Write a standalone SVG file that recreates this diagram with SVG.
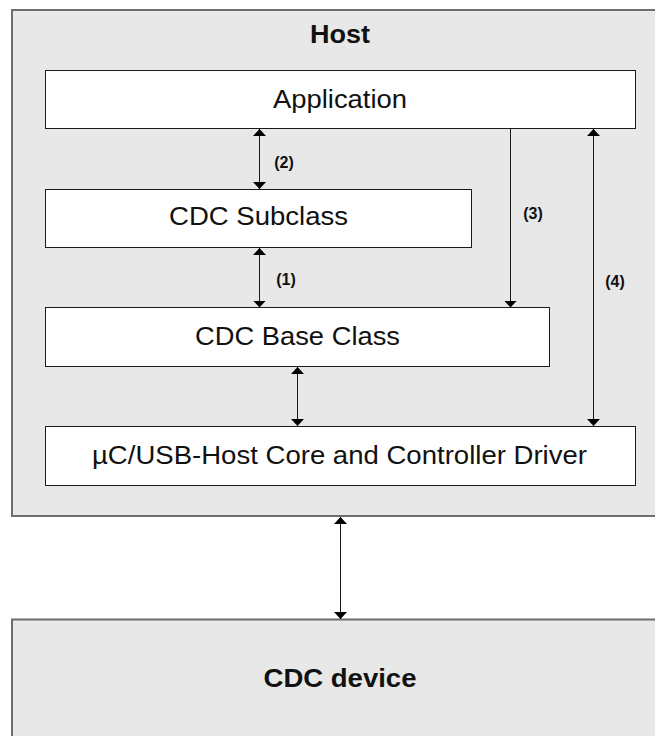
<svg xmlns="http://www.w3.org/2000/svg" width="655" height="736" viewBox="0 0 655 736">
  <defs>
    <style>
      .cont { fill: #e8e8e8; stroke: #6e6e6e; stroke-width: 2; }
      .box { fill: #ffffff; stroke: #1a1a1a; stroke-width: 1; }
      .txt { font-family: "Liberation Sans", Arial, sans-serif; font-size: 25px; fill: #111; text-anchor: middle; }
      .bold { font-weight: bold; }
      .lbl { font-family: "Liberation Sans", Arial, sans-serif; font-size: 16px; font-weight: bold; fill: #111; text-anchor: middle; }
      .conn { stroke: #1a1a1a; stroke-width: 1; fill: none; }
    </style>
    <marker id="ah" markerUnits="userSpaceOnUse" markerWidth="8" markerHeight="14" refX="7" refY="6.5" orient="auto-start-reverse">
      <path d="M0,0 L7,6.5 L0,13 Z" fill="#000"/>
    </marker>
  </defs>

  <g id="host">
    <rect class="cont" x="12" y="10" width="700" height="506"/>
    <text class="txt bold" x="340" y="43" textLength="60" lengthAdjust="spacingAndGlyphs">Host</text>
  </g>

  <g id="device">
    <rect class="cont" x="12" y="619.5" width="700" height="200"/>
    <text class="txt bold" x="340" y="687" textLength="153" lengthAdjust="spacingAndGlyphs">CDC device</text>
  </g>

  <g id="application">
    <rect class="box" x="45.5" y="70.5" width="590" height="58"/>
    <text class="txt" x="340" y="108" textLength="134" lengthAdjust="spacingAndGlyphs">Application</text>
  </g>

  <g id="subclass">
    <rect class="box" x="45.5" y="189.5" width="426" height="58"/>
    <text class="txt" x="258.5" y="225" textLength="179" lengthAdjust="spacingAndGlyphs">CDC Subclass</text>
  </g>

  <g id="baseclass">
    <rect class="box" x="45.5" y="307.5" width="504" height="59"/>
    <text class="txt" x="297.5" y="345" textLength="205" lengthAdjust="spacingAndGlyphs">CDC Base Class</text>
  </g>

  <g id="core">
    <rect class="box" x="45.5" y="426.5" width="590" height="59"/>
    <text class="txt" x="339.5" y="464" textLength="495" lengthAdjust="spacingAndGlyphs">µC/USB-Host Core and Controller Driver</text>
  </g>

  <g id="connectors">
    <line class="conn" x1="259.5" y1="129" x2="259.5" y2="189" marker-start="url(#ah)" marker-end="url(#ah)"/>
    <text class="lbl" x="284" y="168">(2)</text>
    <line class="conn" x1="259.5" y1="248" x2="259.5" y2="307.5" marker-start="url(#ah)" marker-end="url(#ah)"/>
    <text class="lbl" x="286" y="285">(1)</text>
    <line class="conn" x1="510.5" y1="129" x2="510.5" y2="307.5" marker-end="url(#ah)"/>
    <text class="lbl" x="533" y="219">(3)</text>
    <line class="conn" x1="593.5" y1="129" x2="593.5" y2="426" marker-start="url(#ah)" marker-end="url(#ah)"/>
    <text class="lbl" x="615" y="287">(4)</text>
    <line class="conn" x1="297.5" y1="367" x2="297.5" y2="426" marker-start="url(#ah)" marker-end="url(#ah)"/>
    <line class="conn" x1="340.5" y1="517" x2="340.5" y2="619" marker-start="url(#ah)" marker-end="url(#ah)"/>
  </g>
</svg>
